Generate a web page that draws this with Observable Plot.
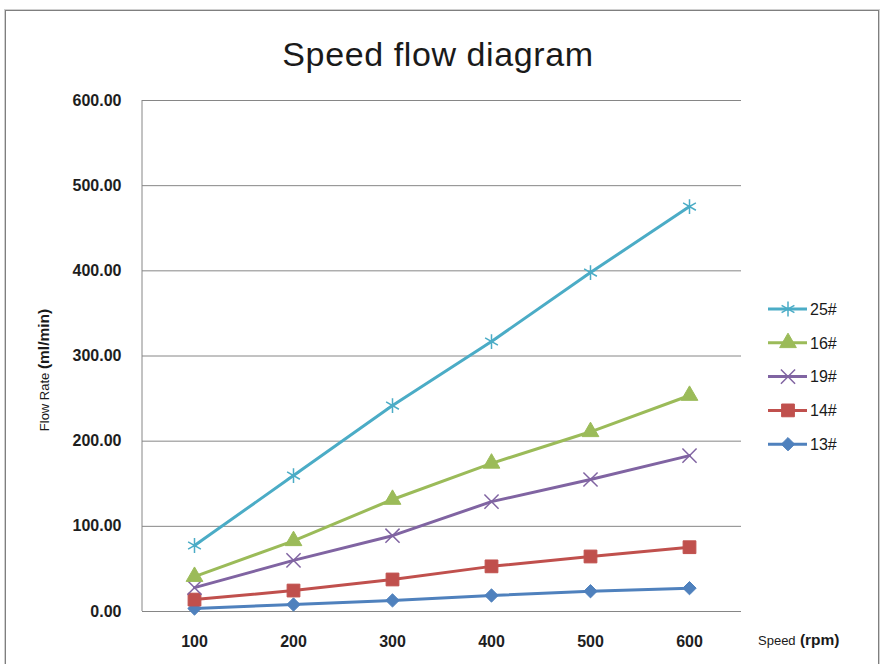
<!DOCTYPE html>
<html><head><meta charset="utf-8">
<script src="https://cdn.jsdelivr.net/npm/d3@7"></script>
<script src="https://cdn.jsdelivr.net/npm/@observablehq/plot@0.6"></script>
<style>
body{margin:0;background:#fff;font-family:"Liberation Sans",Arial,sans-serif;}
#wrap{position:relative;width:881px;height:664px;overflow:hidden;}
#border{position:absolute;left:5px;top:10px;width:874px;height:670px;border:1px solid #7f7f7f;box-shadow:0 0 0 1px #d0d0d0;box-sizing:border-box;}
#chart{position:absolute;left:0;top:0;}
</style>
</head><body>
<div id="wrap"><div id="border"></div><div id="chart"></div></div>
<script>
const speeds = [100, 200, 300, 400, 500, 600];
const seriesNames = ["25#", "16#", "19#", "14#", "13#"];
const v25 = [77.5, 159.6, 241.8, 317, 398, 475.5];
const v16 = [41, 83, 131.5, 174, 211, 253.6];
const v19 = [28, 60, 89, 129, 155, 183];
const v14 = [14, 24.6, 37.6, 53, 64.6, 75.5];
const v13 = [3.5, 8.2, 13, 18.8, 23.8, 27.4];
const yTicks = [0, 100, 200, 300, 400, 500, 600];
const colors = ["#4BACC6", "#9BBB59", "#8064A2", "#C0504D", "#4F81BD"];
const symbols = ["asterisk", "triangle", "times", "square", "diamond2"];
const filled = [false, true, false, true, true];
const sizes = [7, 6.2, 6.5, 7.2, 6];
const title = "Speed flow diagram";

const values = [v25, v16, v19, v14, v13];
const series = seriesNames.map((name, k) => ({
  name, color: colors[k], symbol: symbols[k], filled: filled[k], r: sizes[k],
  rows: speeds.map((s, i) => ({speed: s, value: values[k][i]}))
}));

const W = 881, H = 664, ML = 142, MR = 140, MT = 100, MB = 53;
const font = "Liberation Sans, Arial, sans-serif";

const marks = [
  Plot.gridY(yTicks, {stroke: "#868686", strokeOpacity: 1, strokeWidth: 1}),
  Plot.axisY(yTicks, {tickSize: 0, tickPadding: 21, tickFormat: d3.format(".2f"),
    fontSize: 16, fontWeight: "bold", fill: "#1e1e1e", label: null}),
  Plot.axisX(speeds, {tickSize: 0, tickPadding: 24, fontSize: 16, fontWeight: "bold",
    fill: "#1e1e1e", label: null})
];
for (const s of series.slice().reverse()) {
  marks.push(Plot.line(s.rows, {x: "speed", y: "value", stroke: s.color, strokeWidth: 3}));
  marks.push(Plot.dot(s.rows, {x: "speed", y: "value", symbol: s.symbol, r: s.r,
    fill: s.filled ? s.color : "none", stroke: s.color, strokeWidth: s.filled ? 1 : 1.5}));
}

const plot = Plot.plot({
  width: W, height: H, marginLeft: ML, marginRight: MR, marginTop: MT, marginBottom: MB,
  style: {fontFamily: font, background: "transparent", overflow: "visible"},
  x: {type: "point", domain: speeds, padding: 0.5, label: null},
  y: {domain: [0, 600], label: null},
  marks
});
document.getElementById("chart").appendChild(plot);

const svg = d3.select(plot);
const ys = plot.scale("y");
svg.append("line").attr("x1", ML).attr("x2", ML)
  .attr("y1", ys.apply(600)).attr("y2", ys.apply(0))
  .attr("stroke", "#868686").attr("stroke-width", 1);

// title
svg.append("text").attr("x", 438).attr("y", 66).attr("text-anchor", "middle")
  .attr("font-size", 34).attr("letter-spacing", 0.6).attr("fill", "#1a1a1a")
  .attr("font-family", font).text(title);

// y label
const yl = svg.append("text").attr("transform", "translate(49,370) rotate(-90)")
  .attr("text-anchor", "middle").attr("fill", "#1a1a1a").attr("font-family", font);
yl.append("tspan").attr("font-size", 13).text("Flow Rate ");
yl.append("tspan").attr("font-size", 15.5).attr("font-weight", "bold").text("(ml/min)");

// x label
const xl = svg.append("text").attr("x", 758).attr("y", 645).attr("fill", "#1a1a1a")
  .attr("text-anchor", "start").attr("font-family", font);
xl.append("tspan").attr("font-size", 13).text("Speed");
xl.append("tspan").attr("font-size", 15.5).attr("font-weight", "bold").text(" (rpm)");

// legend
const symMap = {asterisk: d3.symbolAsterisk, triangle: d3.symbolTriangle, times: d3.symbolTimes,
  square: d3.symbolSquare, diamond2: d3.symbolDiamond2};
series.forEach((s, i) => {
  const cy = 309 + i * 33.8;
  const g = svg.append("g");
  g.append("line").attr("x1", 768).attr("x2", 807).attr("y1", cy).attr("y2", cy)
    .attr("stroke", s.color).attr("stroke-width", 3);
  g.append("path").attr("transform", `translate(788,${cy})`)
    .attr("d", d3.symbol(symMap[s.symbol], Math.PI * s.r * s.r)())
    .attr("fill", s.filled ? s.color : "none").attr("stroke", s.color)
    .attr("stroke-width", s.filled ? 1 : 1.5);
  g.append("text").attr("x", 810).attr("y", cy + 5.8).attr("font-size", 16)
    .attr("text-anchor", "start").attr("fill", "#1a1a1a").attr("font-family", font).text(s.name);
});
</script>
</body></html>
